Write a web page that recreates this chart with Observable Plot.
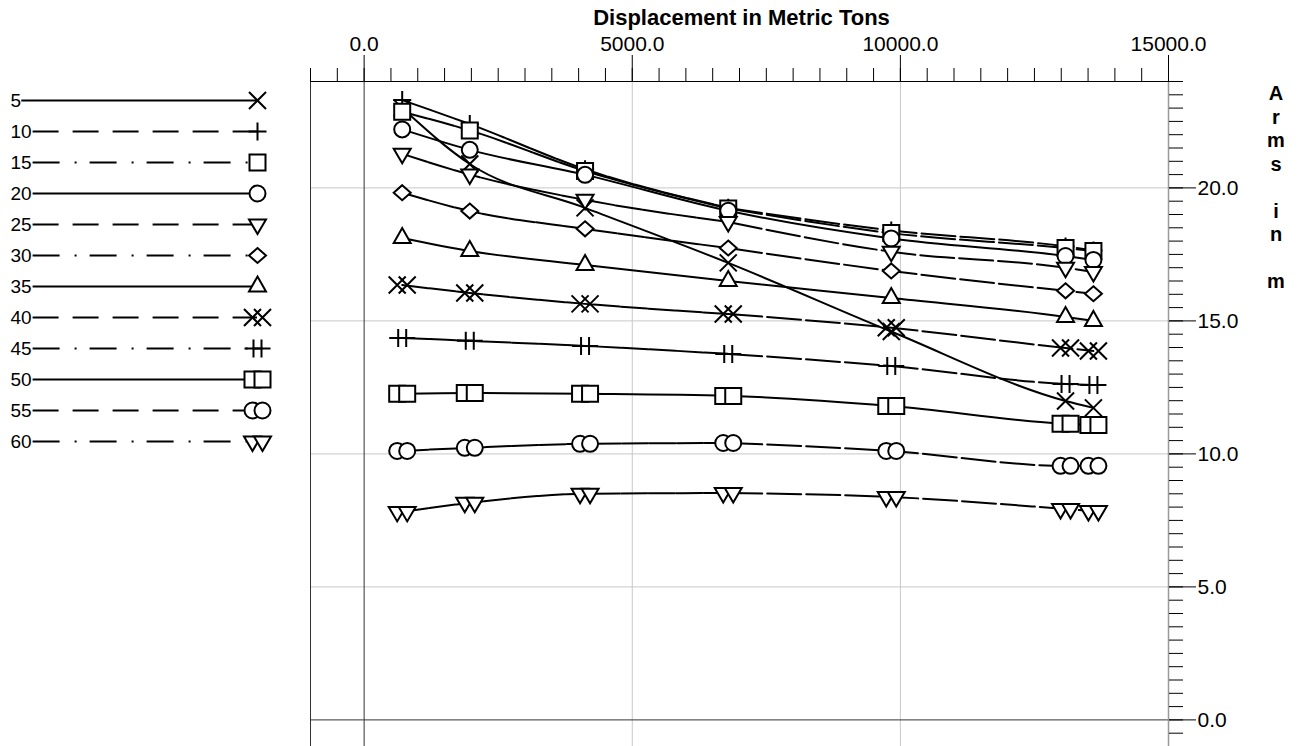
<!DOCTYPE html>
<html><head><meta charset="utf-8">
<script src="https://cdn.jsdelivr.net/npm/d3@7"></script>
<script src="https://cdn.jsdelivr.net/npm/@observablehq/plot@0.6"></script>
<style>
body{margin:0;background:#fff;font-family:"Liberation Sans",Arial,sans-serif;}
#wrap{position:relative;width:1303px;height:746px;overflow:hidden;background:#fff}
#wrap > svg{position:absolute;left:0;top:0;margin:0;max-width:none}
#ytitle{position:absolute;left:1266px;top:82px;width:20px;font-weight:bold;font-size:20px;line-height:23.5px;text-align:center;color:#000;z-index:5}
#ytitle div{height:23.5px}
</style></head>
<body><div id="wrap"><div id="ytitle"></div></div>
<script>
// ---- data ----
const displacement = [710, 1970, 4120, 6790, 9830, 13080, 13600];
const angles = ["5","10","15","20","25","30","35","40","45","50","55","60"];
const arm5  = [23.0, 20.9, 19.25, 17.18, 14.6, 11.99, 11.73];
const arm10 = [23.3, 22.4, 20.7, 19.25, 18.4, 17.8, 17.65];
const arm15 = [22.86, 22.16, 20.64, 19.23, 18.3, 17.74, 17.63];
const arm20 = [22.2, 21.43, 20.49, 19.14, 18.1, 17.44, 17.29];
const arm25 = [21.28, 20.5, 19.55, 18.72, 17.6, 17.0, 16.84];
const arm30 = [19.82, 19.13, 18.46, 17.74, 16.88, 16.13, 16.02];
const arm35 = [18.12, 17.63, 17.1, 16.5, 15.86, 15.15, 15.0];
const arm40 = [16.35, 16.05, 15.64, 15.26, 14.74, 13.98, 13.87];
const arm45 = [14.36, 14.25, 14.06, 13.76, 13.3, 12.63, 12.59];
const arm50 = [12.26, 12.29, 12.26, 12.18, 11.8, 11.13, 11.09];
const arm55 = [10.11, 10.23, 10.38, 10.41, 10.11, 9.55, 9.55];
const arm60 = [7.82, 8.16, 8.5, 8.53, 8.38, 7.93, 7.85];
const armValues = [arm5, arm10, arm15, arm20, arm25, arm30, arm35, arm40, arm45, arm50, arm55, arm60];
const xMajorTicks = [0, 5000, 10000, 15000];
const yMajorTicks = [0, 5, 10, 15, 20];
const xTitle = "Displacement in Metric Tons";
const yTitle = ["A","r","m","s","","i","n","","m"];

// ---- styles ----
const lineStyles = ["solid","dashed","dashdot"];
const styleOf = s => lineStyles[s % 3];
const sym = {
  cross:{draw(c){const h=8.5;c.moveTo(-h,-h);c.lineTo(h,h);c.moveTo(h,-h);c.lineTo(-h,h);}},
  plus:{draw(c){const h=9;c.moveTo(-h,0);c.lineTo(h,0);c.moveTo(0,-h);c.lineTo(0,h);}},
  square:{draw(c){const h=8;c.moveTo(-h,-h);c.lineTo(h,-h);c.lineTo(h,h);c.lineTo(-h,h);c.closePath();}},
  circle:{draw(c){const r=8;c.moveTo(r,0);c.arc(0,0,r,0,2*Math.PI);c.closePath();}},
  triDown:{draw(c){c.moveTo(-8.5,-5);c.lineTo(8.5,-5);c.lineTo(0,9.5);c.closePath();}},
  diamond:{draw(c){c.moveTo(0,-7.5);c.lineTo(8.5,0);c.lineTo(0,7.5);c.lineTo(-8.5,0);c.closePath();}},
  triUp:{draw(c){c.moveTo(0,-10);c.lineTo(8.5,5);c.lineTo(-8.5,5);c.closePath();}}
};
const markerOf = [
  {s:sym.cross},{s:sym.plus},{s:sym.square},{s:sym.circle},{s:sym.triDown},{s:sym.diamond},{s:sym.triUp},
  {s:sym.cross,off:5},{s:sym.plus,off:4},{s:sym.square,off:5},{s:sym.circle,off:5},{s:sym.triDown,off:5}
];

const rows = angles.flatMap((a, s) => armValues[s].map((v, i) => ({angle:a, s, i, x:displacement[i], v})));

function dotMarks(data, x, y, s) {
  const m = markerOf[s];
  const base = {x, y, symbol:m.s, fill:"white", stroke:"black", strokeWidth:2};
  if (m.off) return [Plot.dot(data, {...base, dx:-m.off}), Plot.dot(data, {...base, dx:m.off})];
  return [Plot.dot(data, base)];
}

const lineOpts = {x:"x", y:"v", z:"angle", curve:"monotone-x", stroke:"black", strokeWidth:2};
const mainMarks = [
  Plot.gridX({ticks:[5000,10000], stroke:"#c8c8c8", strokeOpacity:1}),
  Plot.gridY({ticks:[5,10,15,20], stroke:"#c8c8c8", strokeOpacity:1}),
  Plot.ruleX([0], {stroke:"#333"}),
  Plot.ruleY([0], {stroke:"#333"}),
  Plot.ruleX([-1000], {stroke:"#333"}),
  Plot.ruleX([15000], {stroke:"#999", strokeWidth:1.5}),
  Plot.ruleY([24], {stroke:"#000", insetRight:-14}),
  Plot.axisX({anchor:"top", ticks:d3.range(-1000, 15001, 500), tickSize:14, tickFormat:()=>"", label:null}),
  Plot.axisX({anchor:"top", ticks:xMajorTicks, tickSize:27, tickPadding:4, tickFormat:d=>d.toFixed(1), label:null, fontSize:21}),
  Plot.axisY({anchor:"right", ticks:d3.range(-1, 24.01, 0.5), tickSize:14, tickFormat:()=>"", label:null}),
  Plot.axisY({anchor:"right", ticks:yMajorTicks, tickSize:27, tickPadding:2, tickFormat:d=>d.toFixed(1), label:null, fontSize:21}),
  Plot.text([xTitle], {text:d=>d, frameAnchor:"top", dy:-57, dx:2, lineAnchor:"bottom", fontWeight:"bold", fontSize:22}),
  Plot.line(rows.filter(d => styleOf(d.s) === "solid"), lineOpts),
  Plot.line(rows.filter(d => styleOf(d.s) !== "solid" && d.i <= 3), {...lineOpts, strokeDasharray:"26,1.5"}),
  Plot.line(rows.filter(d => styleOf(d.s) !== "solid" && d.i >= 3), {...lineOpts, strokeDasharray:"34,5"}),
  ...angles.flatMap((a, s) => dotMarks(rows.filter(d => d.s === s), "x", "v", s))
];

const main = Plot.plot({
  width:1303, height:746,
  marginLeft:310, marginRight:135, marginTop:81, marginBottom:0,
  x:{domain:[-1000,15000], label:null},
  y:{domain:[-1,24], label:null},
  style:{fontFamily:"'Liberation Sans', Arial, sans-serif", fontSize:"20px", background:"transparent", color:"black", overflow:"visible"},
  marks: mainMarks
});

// ---- legend ----
const legendRows = angles.map((a, i) => ({label:a, row:i}));
const legendDash = {solid:null, dashed:"26,14", dashdot:"27,15,2,13"};
const legend = Plot.plot({
  width:300, height:460, margin:0,
  x:{domain:[0,300], range:[0,300], axis:null},
  y:{domain:[0,11], range:[100,441], axis:null},
  style:{fontFamily:"'Liberation Sans', Arial, sans-serif", background:"transparent", color:"black", overflow:"visible"},
  marks:[
    Plot.text(legendRows, {x:10, y:"row", text:"label", textAnchor:"start", fontSize:19}),
    ...lineStyles.map(st => Plot.ruleY(legendRows.filter(d => styleOf(d.row) === st), {
      y:"row", x1:d => 10 + d.label.length * 11.3, x2:257, stroke:"black", strokeWidth:2,
      ...(legendDash[st] ? {strokeDasharray:legendDash[st]} : {})
    })),
    ...legendRows.flatMap(d => dotMarks([d], 257, "row", d.row))
  ]
});

const wrap = document.getElementById("wrap");
wrap.append(main);
wrap.append(legend);
const yt = document.getElementById("ytitle");
yTitle.forEach(ch => { const e = document.createElement("div"); e.textContent = ch; yt.append(e); });
</script>
</body></html>
